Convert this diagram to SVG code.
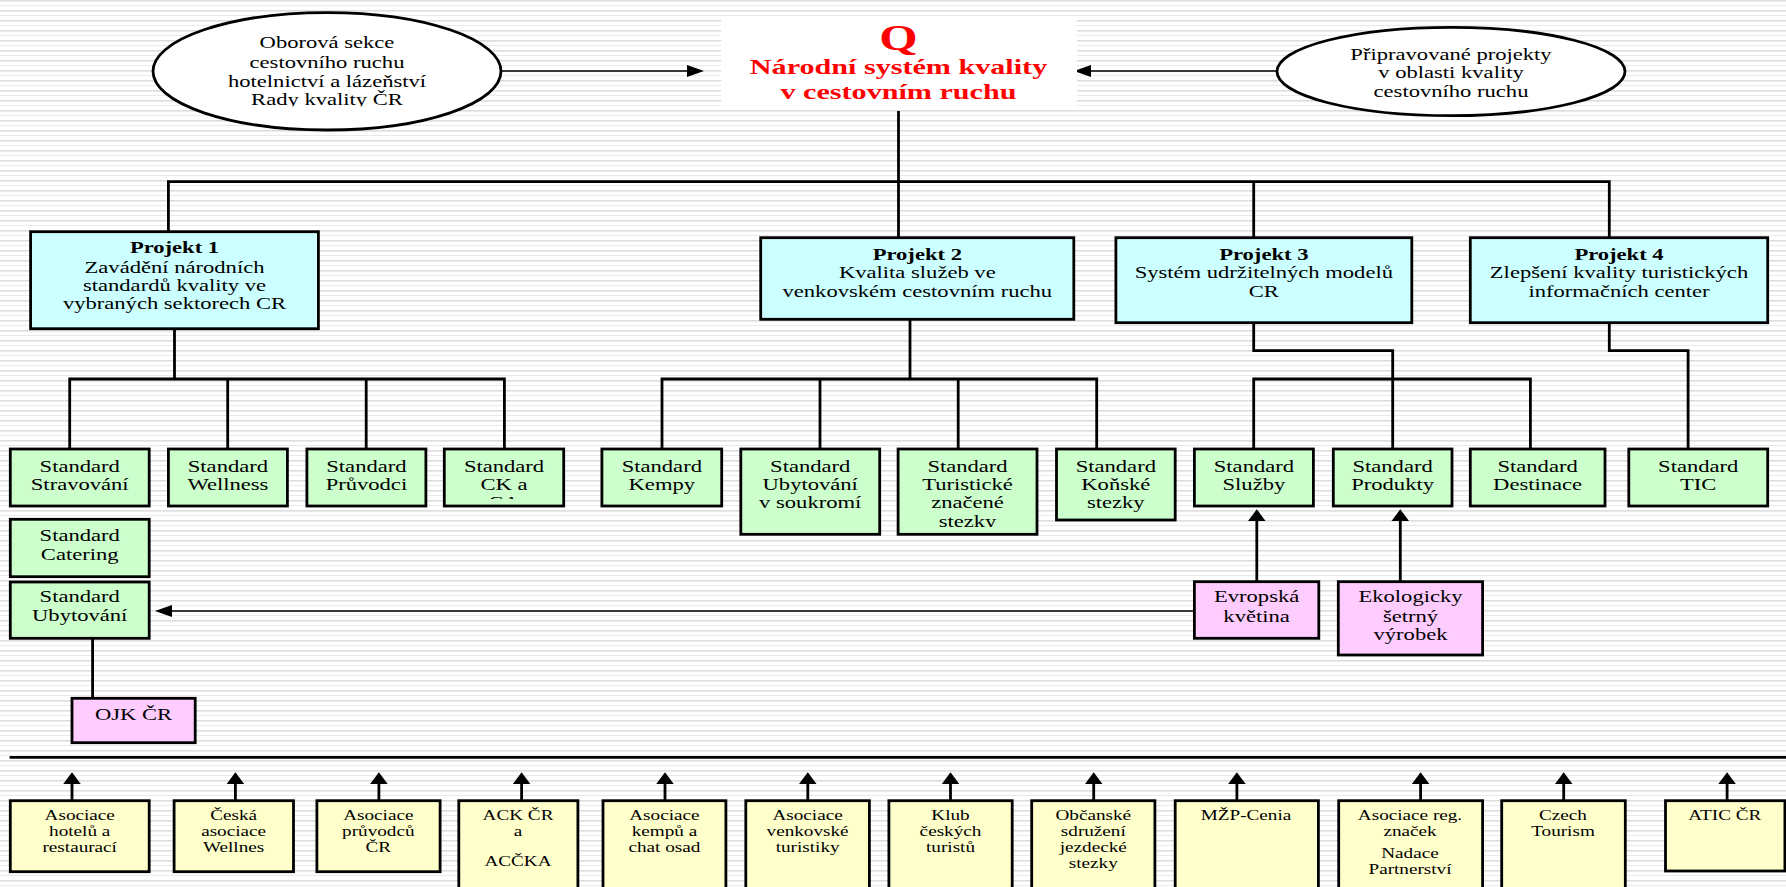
<svg xmlns="http://www.w3.org/2000/svg" width="1786" height="887" viewBox="0 0 1786 887">
<defs>
<style>
.t{font-family:"Liberation Serif","Times New Roman",serif;font-size:16.5px;fill:#000;text-anchor:middle}
.b{font-weight:bold}
.s{font-size:14px}
.red{fill:#ff0000;font-weight:bold}
.box{stroke:#000;stroke-width:2.8}
.cy{fill:#ccffff}.gr{fill:#ccffcc}.pk{fill:#ffccff}.yl{fill:#ffffcc}
.ln{fill:none;stroke:#000;stroke-width:2.8}
.thin{fill:none;stroke:#000;stroke-width:1.6}
</style>
<pattern id="stripes" width="10" height="10" patternUnits="userSpaceOnUse">
<rect width="10" height="10" fill="#ffffff"/>
<rect y="0" width="10" height="1.6" fill="#dddddd"/>
<rect y="5" width="10" height="1" fill="#e9e9e9"/>
</pattern>
<marker id="ahv" markerUnits="userSpaceOnUse" viewBox="0 0 12 18" markerWidth="12" markerHeight="18" refX="6" refY="9" orient="auto"><path d="M0,0 L12,9 L0,18 Z" fill="#000"/></marker>
<marker id="ahh" markerUnits="userSpaceOnUse" viewBox="0 0 17 12" markerWidth="17" markerHeight="12" refX="9" refY="6" orient="auto"><path d="M0,0 L17,6 L0,12 Z" fill="#000"/></marker>
<clipPath id="clipL"><rect x="150" y="20" width="360" height="86.5"/></clipPath>
<clipPath id="clipCK"><rect x="444" y="449" width="120" height="50"/></clipPath>
<clipPath id="clipTur"><rect x="898" y="449" width="139" height="78"/></clipPath>
</defs>
<rect width="1786" height="887" fill="url(#stripes)"/>

<g id="connectors">
<line class="thin" x1="500" y1="71" x2="696" y2="71" marker-end="url(#ahh)"/>
<line class="thin" x1="1276.7" y1="71" x2="1082" y2="71" marker-end="url(#ahh)"/>
<line class="ln" x1="898.5" y1="111" x2="898.5" y2="237.7"/>
<path class="ln" d="M168.4,231.7 V181.7 H1609.3 V237.7 M1253.7,181.7 V237.7"/>
<path class="ln" d="M174.5,329 V379 M69.7,449 V379 H504.4 V449 M227.7,379 V449 M366.2,379 V449"/>
<path class="ln" d="M910,319.3 V379 M662,449 V379 H1096.7 V449 M820,379 V449 M958.2,379 V449"/>
<path class="ln" d="M1253.7,322.7 V350.7 H1392.7 V449 M1253.7,449 V379 H1530.4 V449"/>
<path class="ln" d="M1609.3,322.7 V350.7 H1688.1 V449"/>
<line class="thin" x1="1194.4" y1="611" x2="163" y2="611" marker-end="url(#ahh)"/>
<line class="ln" x1="92.6" y1="638.3" x2="92.6" y2="698.3"/>
<line class="ln" x1="1256.8" y1="581.7" x2="1256.8" y2="515.3" marker-end="url(#ahv)"/>
<line class="ln" x1="1400.3" y1="581.7" x2="1400.3" y2="515.3" marker-end="url(#ahv)"/>
<line class="ln" x1="9.6" y1="757.3" x2="1786" y2="757.3"/>
<g>
<line class="ln" x1="72" y1="800.7" x2="72" y2="778.3" marker-end="url(#ahv)"/>
<line class="ln" x1="235.4" y1="800.7" x2="235.4" y2="778.3" marker-end="url(#ahv)"/>
<line class="ln" x1="378.9" y1="800.7" x2="378.9" y2="778.3" marker-end="url(#ahv)"/>
<line class="ln" x1="521.6" y1="800.7" x2="521.6" y2="778.3" marker-end="url(#ahv)"/>
<line class="ln" x1="665" y1="800.7" x2="665" y2="778.3" marker-end="url(#ahv)"/>
<line class="ln" x1="807.8" y1="800.7" x2="807.8" y2="778.3" marker-end="url(#ahv)"/>
<line class="ln" x1="950.5" y1="800.7" x2="950.5" y2="778.3" marker-end="url(#ahv)"/>
<line class="ln" x1="1093.7" y1="800.7" x2="1093.7" y2="778.3" marker-end="url(#ahv)"/>
<line class="ln" x1="1236.9" y1="800.7" x2="1236.9" y2="778.3" marker-end="url(#ahv)"/>
<line class="ln" x1="1420.6" y1="800.7" x2="1420.6" y2="778.3" marker-end="url(#ahv)"/>
<line class="ln" x1="1563.7" y1="800.7" x2="1563.7" y2="778.3" marker-end="url(#ahv)"/>
<line class="ln" x1="1727.1" y1="800.7" x2="1727.1" y2="778.3" marker-end="url(#ahv)"/>
</g>
</g>

<g id="ellipse-left">
<ellipse cx="327" cy="71.3" rx="174" ry="58.7" fill="#fff" stroke="#000" stroke-width="2.8"/>
<g clip-path="url(#clipL)"><text class="t" transform="translate(327 0) scale(1.37 1)"><tspan x="0" y="48">Oborová sekce</tspan><tspan x="0" y="68">cestovního ruchu</tspan><tspan x="0" y="87">hotelnictví a lázeňství</tspan><tspan x="0" y="105.5">Rady kvality ČR</tspan></text></g>
</g>

<g id="ellipse-right">
<ellipse cx="1451" cy="71.5" rx="174" ry="44.2" fill="#fff" stroke="#000" stroke-width="2.8"/>
<text class="t" transform="translate(1451 0) scale(1.37 1)"><tspan x="0" y="60">Připravované projekty</tspan><tspan x="0" y="78.3">v oblasti kvality</tspan><tspan x="0" y="96.7">cestovního ruchu</tspan></text>
</g>

<g id="title">
<rect x="721" y="20" width="356" height="86" fill="#fff"/>
<text class="t red" style="font-size:36px" transform="translate(898.5 0) scale(1.37 1)" x="0" y="50">Q</text>
<text class="t red" style="font-size:22px" transform="translate(898.5 0) scale(1.37 1)"><tspan x="0" y="74">Národní systém kvality</tspan><tspan x="0" y="99.3">v cestovním ruchu</tspan></text>
</g>

<g id="projekt1">
<rect class="box cy" x="30.6" y="231.7" width="287.8" height="97"/>
<text class="t" transform="translate(174.5 0) scale(1.37 1)"><tspan class="b" x="0" y="253.3">Projekt 1</tspan><tspan x="0" y="272.7">Zavádění národních</tspan><tspan x="0" y="290.7">standardů kvality ve</tspan><tspan x="0" y="309.3">vybraných sektorech CR</tspan></text>
</g>
<g id="projekt2">
<rect class="box cy" x="760.7" y="237.7" width="313.1" height="81.6"/>
<text class="t" transform="translate(917.3 0) scale(1.37 1)"><tspan class="b" x="0" y="260">Projekt 2</tspan><tspan x="0" y="278.3">Kvalita služeb ve</tspan><tspan x="0" y="296.7">venkovském cestovním ruchu</tspan></text>
</g>
<g id="projekt3">
<rect class="box cy" x="1115.9" y="237.7" width="295.9" height="85"/>
<text class="t" transform="translate(1263.8 0) scale(1.37 1)"><tspan class="b" x="0" y="260">Projekt 3</tspan><tspan x="0" y="278.3">Systém udržitelných modelů</tspan><tspan x="0" y="296.7">CR</tspan></text>
</g>
<g id="projekt4">
<rect class="box cy" x="1470.3" y="237.7" width="297.4" height="85"/>
<text class="t" transform="translate(1619 0) scale(1.37 1)"><tspan class="b" x="0" y="260">Projekt 4</tspan><tspan x="0" y="278.3">Zlepšení kvality turistických</tspan><tspan x="0" y="296.7">informačních center</tspan></text>
</g>

<g id="std-stravovani">
<rect class="box gr" x="10.3" y="449" width="138.9" height="57"/>
<text class="t" transform="translate(79.7 0) scale(1.37 1)"><tspan x="0" y="471.7">Standard</tspan><tspan x="0" y="490">Stravování</tspan></text>
</g>
<g id="std-wellness">
<rect class="box gr" x="168.4" y="449" width="119" height="57"/>
<text class="t" transform="translate(227.9 0) scale(1.37 1)"><tspan x="0" y="471.7">Standard</tspan><tspan x="0" y="490">Wellness</tspan></text>
</g>
<g id="std-pruvodci">
<rect class="box gr" x="306.9" y="449" width="119" height="57"/>
<text class="t" transform="translate(366.4 0) scale(1.37 1)"><tspan x="0" y="471.7">Standard</tspan><tspan x="0" y="490">Průvodci</tspan></text>
</g>
<g id="std-ck">
<rect class="box gr" x="444.3" y="449" width="119.4" height="57"/>
<g clip-path="url(#clipCK)"><text class="t" transform="translate(504 0) scale(1.37 1)"><tspan x="0" y="471.7">Standard</tspan><tspan x="0" y="490">CK a</tspan><tspan x="0" y="508.3">CA</tspan></text></g>
</g>
<g id="std-kempy">
<rect class="box gr" x="601.9" y="449" width="119.8" height="57"/>
<text class="t" transform="translate(661.8 0) scale(1.37 1)"><tspan x="0" y="471.7">Standard</tspan><tspan x="0" y="490">Kempy</tspan></text>
</g>
<g id="std-soukromi">
<rect class="box gr" x="740.8" y="449" width="138.9" height="85.3"/>
<text class="t" transform="translate(810.2 0) scale(1.37 1)"><tspan x="0" y="471.7">Standard</tspan><tspan x="0" y="490">Ubytování</tspan><tspan x="0" y="508.3">v soukromí</tspan></text>
</g>
<g id="std-turisticke">
<rect class="box gr" x="898.1" y="449" width="138.9" height="85.3"/>
<g clip-path="url(#clipTur)"><text class="t" transform="translate(967.5 0) scale(1.37 1)"><tspan x="0" y="471.7">Standard</tspan><tspan x="0" y="490">Turistické</tspan><tspan x="0" y="508.3">značené</tspan><tspan x="0" y="526.6">stezky</tspan></text></g>
</g>
<g id="std-konske">
<rect class="box gr" x="1056.5" y="449" width="118.7" height="71"/>
<text class="t" transform="translate(1115.8 0) scale(1.37 1)"><tspan x="0" y="471.7">Standard</tspan><tspan x="0" y="490">Koňské</tspan><tspan x="0" y="508.3">stezky</tspan></text>
</g>
<g id="std-sluzby">
<rect class="box gr" x="1194.4" y="449" width="119" height="57"/>
<text class="t" transform="translate(1253.9 0) scale(1.37 1)"><tspan x="0" y="471.7">Standard</tspan><tspan x="0" y="490">Služby</tspan></text>
</g>
<g id="std-produkty">
<rect class="box gr" x="1333.3" y="449" width="118.7" height="57"/>
<text class="t" transform="translate(1392.6 0) scale(1.37 1)"><tspan x="0" y="471.7">Standard</tspan><tspan x="0" y="490">Produkty</tspan></text>
</g>
<g id="std-destinace">
<rect class="box gr" x="1470.3" y="449" width="134.7" height="57"/>
<text class="t" transform="translate(1537.6 0) scale(1.37 1)"><tspan x="0" y="471.7">Standard</tspan><tspan x="0" y="490">Destinace</tspan></text>
</g>
<g id="std-tic">
<rect class="box gr" x="1628.8" y="449" width="138.9" height="57"/>
<text class="t" transform="translate(1698.2 0) scale(1.37 1)"><tspan x="0" y="471.7">Standard</tspan><tspan x="0" y="490">TIC</tspan></text>
</g>
<g id="std-catering">
<rect class="box gr" x="10.3" y="519.3" width="138.9" height="57.4"/>
<text class="t" transform="translate(79.7 0) scale(1.37 1)"><tspan x="0" y="541">Standard</tspan><tspan x="0" y="560">Catering</tspan></text>
</g>
<g id="std-ubytovani">
<rect class="box gr" x="10.3" y="582" width="138.9" height="56.3"/>
<text class="t" transform="translate(79.7 0) scale(1.37 1)"><tspan x="0" y="602">Standard</tspan><tspan x="0" y="621">Ubytování</tspan></text>
</g>
<g id="ojk">
<rect class="box pk" x="72" y="698.3" width="123.2" height="44.4"/>
<text class="t" transform="translate(133.6 0) scale(1.37 1)" x="0" y="720">OJK ČR</text>
</g>
<g id="evropska">
<rect class="box pk" x="1194.4" y="581.7" width="124.4" height="56.6"/>
<text class="t" transform="translate(1256.6 0) scale(1.37 1)"><tspan x="0" y="602">Evropská</tspan><tspan x="0" y="621.7">květina</tspan></text>
</g>
<g id="ekologicky">
<rect class="box pk" x="1338.3" y="581.7" width="144.3" height="73.3"/>
<text class="t" transform="translate(1410.5 0) scale(1.37 1)"><tspan x="0" y="602">Ekologicky</tspan><tspan x="0" y="621.7">šetrný</tspan><tspan x="0" y="640.5">výrobek</tspan></text>
</g>

<g id="a1"><rect class="box yl" x="10.3" y="800.7" width="138.9" height="71"/>
<text class="t s" transform="translate(79.7 0) scale(1.37 1)"><tspan x="0" y="820">Asociace</tspan><tspan x="0" y="835.7">hotelů a</tspan><tspan x="0" y="851.7">restaurací</tspan></text></g>
<g id="a2"><rect class="box yl" x="174.1" y="800.7" width="119.4" height="71"/>
<text class="t s" transform="translate(233.6 0) scale(1.37 1)"><tspan x="0" y="820">Česká</tspan><tspan x="0" y="835.7">asociace</tspan><tspan x="0" y="851.7">Wellnes</tspan></text></g>
<g id="a3"><rect class="box yl" x="316.9" y="800.7" width="123.2" height="71"/>
<text class="t s" transform="translate(378.3 0) scale(1.37 1)"><tspan x="0" y="820">Asociace</tspan><tspan x="0" y="835.7">průvodců</tspan><tspan x="0" y="851.7">ČR</tspan></text></g>
<g id="a4"><rect class="box yl" x="458.8" y="800.7" width="119.1" height="100"/>
<text class="t s" transform="translate(518 0) scale(1.37 1)"><tspan x="0" y="820">ACK ČR</tspan><tspan x="0" y="835.7">a</tspan><tspan x="0" y="865.7">ACČKA</tspan></text></g>
<g id="a5"><rect class="box yl" x="603" y="800.7" width="122.9" height="100"/>
<text class="t s" transform="translate(664.4 0) scale(1.37 1)"><tspan x="0" y="820">Asociace</tspan><tspan x="0" y="835.7">kempů a</tspan><tspan x="0" y="851.7">chat osad</tspan></text></g>
<g id="a6"><rect class="box yl" x="745.8" y="800.7" width="123.6" height="100"/>
<text class="t s" transform="translate(807.6 0) scale(1.37 1)"><tspan x="0" y="820">Asociace</tspan><tspan x="0" y="835.7">venkovské</tspan><tspan x="0" y="851.7">turistiky</tspan></text></g>
<g id="a7"><rect class="box yl" x="888.9" y="800.7" width="123.3" height="100"/>
<text class="t s" transform="translate(950.5 0) scale(1.37 1)"><tspan x="0" y="820">Klub</tspan><tspan x="0" y="835.7">českých</tspan><tspan x="0" y="851.7">turistů</tspan></text></g>
<g id="a8"><rect class="box yl" x="1031.7" y="800.7" width="123.2" height="100"/>
<text class="t s" transform="translate(1093.3 0) scale(1.37 1)"><tspan x="0" y="820">Občanské</tspan><tspan x="0" y="835.7">sdružení</tspan><tspan x="0" y="851.7">jezdecké</tspan><tspan x="0" y="868.3">stezky</tspan></text></g>
<g id="a9"><rect class="box yl" x="1175.2" y="800.7" width="143.2" height="100"/>
<text class="t s" transform="translate(1246 0) scale(1.37 1)" x="0" y="820">MŽP-Cenia</text></g>
<g id="a10"><rect class="box yl" x="1338.7" y="800.7" width="143.9" height="100"/>
<text class="t s" transform="translate(1410 0) scale(1.37 1)"><tspan x="0" y="820">Asociace reg.</tspan><tspan x="0" y="835.7">značek</tspan><tspan x="0" y="858.3">Nadace</tspan><tspan x="0" y="874">Partnerství</tspan></text></g>
<g id="a11"><rect class="box yl" x="1501.7" y="800.7" width="123.6" height="100"/>
<text class="t s" transform="translate(1563 0) scale(1.37 1)"><tspan x="0" y="820">Czech</tspan><tspan x="0" y="835.7">Tourism</tspan></text></g>
<g id="a12"><rect class="box yl" x="1665.5" y="800.7" width="119.4" height="70.3"/>
<text class="t s" transform="translate(1724.8 0) scale(1.37 1)" x="0" y="820">ATIC ČR</text></g>
</svg>
